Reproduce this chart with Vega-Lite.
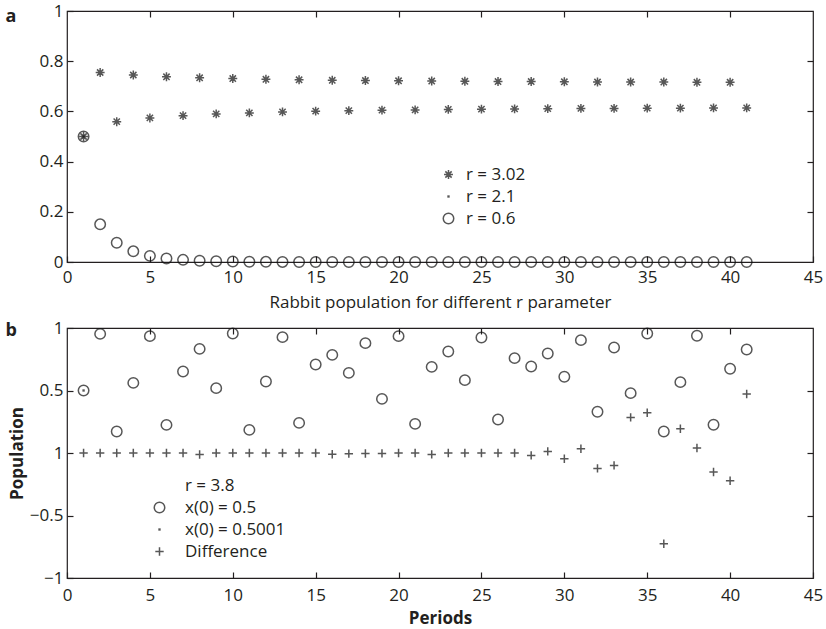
{
"$schema": "https://vega.github.io/schema/vega-lite/v6.json",
"padding": {"left": 4, "top": 1, "right": 5, "bottom": 5},
"spacing": 7,
"datasets": {
"a": [
{"period":1,"series":"r = 3.02","value":0.5},{"period":2,"series":"r = 3.02","value":0.755},{"period":3,"series":"r = 3.02","value":0.559},{"period":4,"series":"r = 3.02","value":0.745},{"period":5,"series":"r = 3.02","value":0.574},{"period":6,"series":"r = 3.02","value":0.738},{"period":7,"series":"r = 3.02","value":0.583},{"period":8,"series":"r = 3.02","value":0.734},{"period":9,"series":"r = 3.02","value":0.59},{"period":10,"series":"r = 3.02","value":0.731},{"period":11,"series":"r = 3.02","value":0.594},{"period":12,"series":"r = 3.02","value":0.728},{"period":13,"series":"r = 3.02","value":0.598},{"period":14,"series":"r = 3.02","value":0.726},{"period":15,"series":"r = 3.02","value":0.601},{"period":16,"series":"r = 3.02","value":0.724},{"period":17,"series":"r = 3.02","value":0.603},{"period":18,"series":"r = 3.02","value":0.723},{"period":19,"series":"r = 3.02","value":0.605},{"period":20,"series":"r = 3.02","value":0.722},{"period":21,"series":"r = 3.02","value":0.606},{"period":22,"series":"r = 3.02","value":0.721},{"period":23,"series":"r = 3.02","value":0.608},{"period":24,"series":"r = 3.02","value":0.72},{"period":25,"series":"r = 3.02","value":0.609},{"period":26,"series":"r = 3.02","value":0.719},{"period":27,"series":"r = 3.02","value":0.61},{"period":28,"series":"r = 3.02","value":0.719},{"period":29,"series":"r = 3.02","value":0.611},{"period":30,"series":"r = 3.02","value":0.718},{"period":31,"series":"r = 3.02","value":0.612},{"period":32,"series":"r = 3.02","value":0.717},{"period":33,"series":"r = 3.02","value":0.612},{"period":34,"series":"r = 3.02","value":0.717},{"period":35,"series":"r = 3.02","value":0.613},{"period":36,"series":"r = 3.02","value":0.717},{"period":37,"series":"r = 3.02","value":0.613},{"period":38,"series":"r = 3.02","value":0.716},{"period":39,"series":"r = 3.02","value":0.614},{"period":40,"series":"r = 3.02","value":0.716},{"period":41,"series":"r = 3.02","value":0.614},
{"period":1,"series":"r = 2.1","value":0.5},
{"period":1,"series":"r = 0.6","value":0.5},{"period":2,"series":"r = 0.6","value":0.15},{"period":3,"series":"r = 0.6","value":0.0765},{"period":4,"series":"r = 0.6","value":0.0424},{"period":5,"series":"r = 0.6","value":0.0244},{"period":6,"series":"r = 0.6","value":0.0143},{"period":7,"series":"r = 0.6","value":0.0085},{"period":8,"series":"r = 0.6","value":0.005},{"period":9,"series":"r = 0.6","value":0.003},{"period":10,"series":"r = 0.6","value":0.0018},{"period":11,"series":"r = 0.6","value":0.0011},{"period":12,"series":"r = 0.6","value":0.0006},{"period":13,"series":"r = 0.6","value":0.0004},{"period":14,"series":"r = 0.6","value":0.0002},{"period":15,"series":"r = 0.6","value":0.0001},{"period":16,"series":"r = 0.6","value":0.0001},{"period":17,"series":"r = 0.6","value":0},{"period":18,"series":"r = 0.6","value":0},{"period":19,"series":"r = 0.6","value":0},{"period":20,"series":"r = 0.6","value":0},{"period":21,"series":"r = 0.6","value":0},{"period":22,"series":"r = 0.6","value":0},{"period":23,"series":"r = 0.6","value":0},{"period":24,"series":"r = 0.6","value":0},{"period":25,"series":"r = 0.6","value":0},{"period":26,"series":"r = 0.6","value":0},{"period":27,"series":"r = 0.6","value":0},{"period":28,"series":"r = 0.6","value":0},{"period":29,"series":"r = 0.6","value":0},{"period":30,"series":"r = 0.6","value":0},{"period":31,"series":"r = 0.6","value":0},{"period":32,"series":"r = 0.6","value":0},{"period":33,"series":"r = 0.6","value":0},{"period":34,"series":"r = 0.6","value":0},{"period":35,"series":"r = 0.6","value":0},{"period":36,"series":"r = 0.6","value":0},{"period":37,"series":"r = 0.6","value":0},{"period":38,"series":"r = 0.6","value":0},{"period":39,"series":"r = 0.6","value":0},{"period":40,"series":"r = 0.6","value":0},{"period":41,"series":"r = 0.6","value":0}
],
"b": [
{"period":1,"series":"x(0) = 0.5","value":0.5},{"period":2,"series":"x(0) = 0.5","value":0.953},{"period":3,"series":"x(0) = 0.5","value":0.172},{"period":4,"series":"x(0) = 0.5","value":0.561},{"period":5,"series":"x(0) = 0.5","value":0.935},{"period":6,"series":"x(0) = 0.5","value":0.225},{"period":7,"series":"x(0) = 0.5","value":0.652},{"period":8,"series":"x(0) = 0.5","value":0.833},{"period":9,"series":"x(0) = 0.5","value":0.519},{"period":10,"series":"x(0) = 0.5","value":0.956},{"period":11,"series":"x(0) = 0.5","value":0.185},{"period":12,"series":"x(0) = 0.5","value":0.572},{"period":13,"series":"x(0) = 0.5","value":0.927},{"period":14,"series":"x(0) = 0.5","value":0.241},{"period":15,"series":"x(0) = 0.5","value":0.708},{"period":16,"series":"x(0) = 0.5","value":0.785},{"period":17,"series":"x(0) = 0.5","value":0.641},{"period":18,"series":"x(0) = 0.5","value":0.879},{"period":19,"series":"x(0) = 0.5","value":0.433},{"period":20,"series":"x(0) = 0.5","value":0.935},{"period":21,"series":"x(0) = 0.5","value":0.233},{"period":22,"series":"x(0) = 0.5","value":0.689},{"period":23,"series":"x(0) = 0.5","value":0.812},{"period":24,"series":"x(0) = 0.5","value":0.583},{"period":25,"series":"x(0) = 0.5","value":0.924},{"period":26,"series":"x(0) = 0.5","value":0.268},{"period":27,"series":"x(0) = 0.5","value":0.759},{"period":28,"series":"x(0) = 0.5","value":0.692},{"period":29,"series":"x(0) = 0.5","value":0.796},{"period":30,"series":"x(0) = 0.5","value":0.61},{"period":31,"series":"x(0) = 0.5","value":0.903},{"period":32,"series":"x(0) = 0.5","value":0.33},{"period":33,"series":"x(0) = 0.5","value":0.844},{"period":34,"series":"x(0) = 0.5","value":0.479},{"period":35,"series":"x(0) = 0.5","value":0.956},{"period":36,"series":"x(0) = 0.5","value":0.172},{"period":37,"series":"x(0) = 0.5","value":0.567},{"period":38,"series":"x(0) = 0.5","value":0.938},{"period":39,"series":"x(0) = 0.5","value":0.226},{"period":40,"series":"x(0) = 0.5","value":0.674},{"period":41,"series":"x(0) = 0.5","value":0.828},
{"period":1,"series":"x(0) = 0.5001","value":0.5001},
{"period":1,"series":"Difference","value":0},{"period":2,"series":"Difference","value":0},{"period":3,"series":"Difference","value":0},{"period":4,"series":"Difference","value":0},{"period":5,"series":"Difference","value":0},{"period":6,"series":"Difference","value":0},{"period":7,"series":"Difference","value":0},{"period":8,"series":"Difference","value":-0.012},{"period":9,"series":"Difference","value":0},{"period":10,"series":"Difference","value":0},{"period":11,"series":"Difference","value":0},{"period":12,"series":"Difference","value":0},{"period":13,"series":"Difference","value":0},{"period":14,"series":"Difference","value":0},{"period":15,"series":"Difference","value":0},{"period":16,"series":"Difference","value":-0.01},{"period":17,"series":"Difference","value":-0.005},{"period":18,"series":"Difference","value":-0.004},{"period":19,"series":"Difference","value":-0.003},{"period":20,"series":"Difference","value":0},{"period":21,"series":"Difference","value":0},{"period":22,"series":"Difference","value":-0.011},{"period":23,"series":"Difference","value":0},{"period":24,"series":"Difference","value":0},{"period":25,"series":"Difference","value":0},{"period":26,"series":"Difference","value":0},{"period":27,"series":"Difference","value":0},{"period":28,"series":"Difference","value":-0.019},{"period":29,"series":"Difference","value":0.013},{"period":30,"series":"Difference","value":-0.046},{"period":31,"series":"Difference","value":0.034},{"period":32,"series":"Difference","value":-0.123},{"period":33,"series":"Difference","value":-0.099},{"period":34,"series":"Difference","value":0.285},{"period":35,"series":"Difference","value":0.322},{"period":36,"series":"Difference","value":-0.726},{"period":37,"series":"Difference","value":0.194},{"period":38,"series":"Difference","value":0.04},{"period":39,"series":"Difference","value":-0.152},{"period":40,"series":"Difference","value":-0.222},{"period":41,"series":"Difference","value":0.472}
]
},
"config": {
"font": "Open Sans",
"view": {"stroke": "#231f20", "strokeWidth": 1.2},
"axis": {"labelFont": "Open Sans", "labelFontSize": 17, "labelColor": "#231f20", "labelFlush": false, "labelOverlap": false, "domain": false, "tickColor": "#231f20", "tickWidth": 1.2, "tickSize": -6, "labelPadding": 10, "grid": false, "titleFont": "Open Sans", "titleColor": "#231f20", "titleFontSize": 17},
"legend": {"labelFont": "Open Sans", "labelFontSize": 17, "labelColor": "#231f20", "padding": 0, "symbolStrokeWidth": 1.5, "symbolSize": 110, "symbolStrokeColor": "#111111"},
"point": {"filled": false, "color": "#111111", "strokeWidth": 1.5, "size": 110}
},
"resolve": {"scale": {"x": "independent", "y": "independent", "shape": "independent"}, "legend": {"shape": "independent"}},
"vconcat": [
{
"width": 746, "height": 251,
"data": {"name": "a"},
"layer": [
{"mark": {"type": "point"},
"encoding": {
"x": {"field": "period", "type": "quantitative", "scale": {"domain": [0, 45], "nice": false, "zero": false}, "axis": {"orient": "bottom", "values": [0,5,10,15,20,25,30,35,40,45], "labelPadding": 13, "title": "Rabbit population for different r parameter", "titleFontWeight": "normal", "titlePadding": 9}},
"y": {"field": "value", "type": "quantitative", "scale": {"domain": [0, 1], "nice": false}, "axis": {"orient": "left", "values": [0,0.2,0.4,0.6,0.8,1], "format": "~g", "title": null}},
"shape": {"field": "series", "type": "nominal", "scale": {"domain": ["r = 3.02", "r = 2.1", "r = 0.6"], "range": ["M-0.85,0L0.85,0M0,-0.85L0,0.85M-0.6,-0.6L0.6,0.6M-0.6,0.6L0.6,-0.6", "M-0.08,-0.08L0.08,-0.08L0.08,0.08L-0.08,0.08Z", "circle"]}, "legend": {"orient": "none", "legendX": 373, "legendY": 155, "title": null, "labelOffset": 9, "rowPadding": 4}}
}},
{"mark": {"type": "point", "opacity": 0},
"encoding": {
"x": {"field": "period", "type": "quantitative", "axis": {"orient": "top", "values": [5,10,15,20,25,30,35,40], "labels": false, "title": "a", "titleAngle": 0, "titleX": -62, "titleY": 5, "titleAlign": "left", "titleBaseline": "middle", "titleFontWeight": "bold", "titleFontSize": 18}},
"y": {"field": "value", "type": "quantitative", "axis": {"orient": "right", "values": [0.2,0.4,0.6,0.8], "labels": false, "title": null}}
}}
],
"resolve": {"axis": {"x": "independent", "y": "independent"}}
},
{
"width": 746, "height": 250,
"data": {"name": "b"},
"layer": [
{"mark": {"type": "point"},
"encoding": {
"x": {"field": "period", "type": "quantitative", "scale": {"domain": [0, 45], "nice": false, "zero": false}, "axis": {"orient": "bottom", "values": [0,5,10,15,20,25,30,35,40,45], "labelPadding": 15, "title": "Periods", "titleFontWeight": "bold", "titlePadding": 7}},
"y": {"field": "value", "type": "quantitative", "scale": {"domain": [-1, 1], "nice": false}, "axis": {"orient": "left", "values": [-1,-0.5,0,0.5,1], "format": "~g", "labelExpr": "datum.value === 0 ? '1' : datum.label", "title": "Population", "titleFontWeight": "bold", "titlePadding": 3}},
"shape": {"field": "series", "type": "nominal", "scale": {"domain": ["r = 3.8", "x(0) = 0.5", "x(0) = 0.5001", "Difference"], "range": ["M0,0", "circle", "M-0.08,-0.08L0.08,-0.08L0.08,0.08L-0.08,0.08Z", "M-0.8,0L0.8,0M0,-0.8L0,0.8"]}, "legend": {"orient": "none", "legendX": 84, "legendY": 149, "title": null, "labelOffset": 17, "rowPadding": 4}}
}},
{"mark": {"type": "point", "opacity": 0},
"encoding": {
"x": {"field": "period", "type": "quantitative", "axis": {"orient": "top", "values": [5,10,15,20,25,30,35,40], "labels": false, "title": "b", "titleAngle": 0, "titleX": -62, "titleY": 2, "titleAlign": "left", "titleBaseline": "middle", "titleFontWeight": "bold", "titleFontSize": 18}},
"y": {"field": "value", "type": "quantitative", "axis": {"orient": "right", "values": [-0.5,0,0.5], "labels": false, "title": null}}
}}
],
"resolve": {"axis": {"x": "independent", "y": "independent"}}
}
]
}
